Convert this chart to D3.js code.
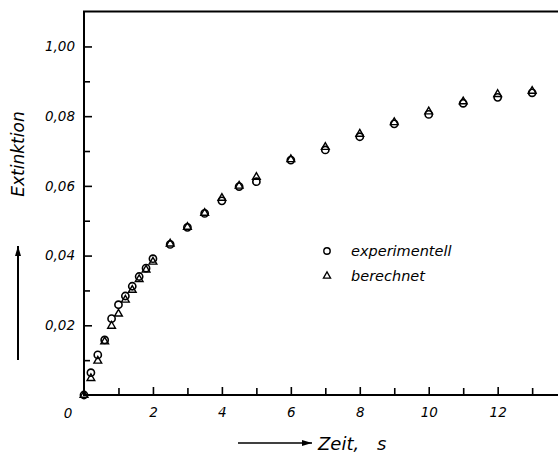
<!DOCTYPE html>
<html>
<head>
<meta charset="utf-8">
<script src="https://cdn.jsdelivr.net/npm/d3@7"></script>
<style>
  body { margin: 0; background: #fff; }
  svg text { font-family: "DejaVu Sans", sans-serif; font-style: italic; fill: #000; }
  .axis text { font-size: 13.5px; }
  .axis line { stroke: #000; stroke-width: 1.6; }
</style>
</head>
<body>
<div id="vis-container"></div>
<script>
// Zeit in s
var zeit = [0, 0.2, 0.4, 0.6, 0.8, 1.0, 1.2, 1.4, 1.6, 1.8, 2.0, 2.5, 3, 3.5, 4, 4.5, 5, 6, 7, 8, 9, 10, 11, 12, 13];
// Extinktion, experimentell (Kreise)
var experimentell = [0, 0.0064, 0.0115, 0.0158, 0.0219, 0.0259, 0.0284, 0.0312, 0.0340, 0.0364, 0.0391,
    0.0432, 0.0481, 0.0521, 0.0557, 0.0598, 0.0612, 0.0674, 0.0703, 0.0741, 0.0778, 0.0805, 0.0837, 0.0854, 0.0867];
// Extinktion, berechnet (Dreiecke)
var berechnet = [0, 0.0048, 0.0098, 0.0153, 0.0198, 0.0233, 0.0273, 0.0301, 0.0332, 0.0359, 0.0382,
    0.0434, 0.0482, 0.0522, 0.0565, 0.0600, 0.0625, 0.0676, 0.0711, 0.0749, 0.0782, 0.0813, 0.0842, 0.0863, 0.0872];

var yTicks = [0.02, 0.04, 0.06, 0.08, 0.10];
var yTickLabels = ["0,02", "0,04", "0,06", "0,08", "1,00"];
var yMinor = [0.01, 0.03, 0.05, 0.07, 0.09];
var xTicks = [2, 4, 6, 8, 10, 12];
var xMinor = [1, 3, 5, 7, 9, 11, 13];

var width = 558, height = 455;
var svg = d3.select("#vis-container").append("svg")
    .attr("width", width).attr("height", height);

var xScale = d3.scaleLinear().domain([0, 13.75]).range([84, 558]);
var yScale = d3.scaleLinear().domain([0, 0.11]).range([395, 11.6]);

// frame: left axis, top line, bottom axis (no right border)
svg.append("path")
    .attr("d", "M" + width + "," + yScale(0.11) + "H" + xScale(0) + "V" + yScale(0) + "H" + width)
    .attr("fill", "none").attr("stroke", "#000").attr("stroke-width", 2);

// y axis with ticks pointing inward
var yAxisG = svg.append("g").attr("class", "axis")
    .attr("transform", "translate(" + xScale(0) + ",0)")
    .call(d3.axisLeft(yScale).tickValues(yTicks).tickSize(-8).tickPadding(9)
        .tickFormat((d, i) => yTickLabels[i]));
yAxisG.select(".domain").remove();

svg.append("g").attr("class", "axis")
    .attr("transform", "translate(" + xScale(0) + ",0)")
    .call(d3.axisLeft(yScale).tickValues(yMinor).tickSize(-6).tickFormat(""))
    .select(".domain").remove();

// x axis
var xAxisG = svg.append("g").attr("class", "axis")
    .attr("transform", "translate(0," + yScale(0) + ")")
    .call(d3.axisBottom(xScale).tickValues(xTicks).tickSize(-8).tickPadding(12).tickFormat(d3.format("d")));
xAxisG.select(".domain").remove();

svg.append("g").attr("class", "axis")
    .attr("transform", "translate(0," + yScale(0) + ")")
    .call(d3.axisBottom(xScale).tickValues(xMinor).tickSize(-7).tickFormat(""))
    .select(".domain").remove();

// origin label
svg.append("text").attr("x", xScale(0) - 16).attr("y", yScale(0) + 23)
    .attr("text-anchor", "middle").style("font-size", "13.5px").text("0");

// markers
var pts = zeit.map((t, i) => ({ t: t, e: experimentell[i], b: berechnet[i] }));
var tri = d3.symbol().type(d3.symbolTriangle).size(26);

svg.append("g").selectAll("circle").data(pts).enter().append("circle")
    .attr("cx", d => xScale(d.t)).attr("cy", d => yScale(d.e)).attr("r", 3.6)
    .attr("fill", "none").attr("stroke", "#000").attr("stroke-width", 1.6);

svg.append("g").selectAll("path").data(pts).enter().append("path")
    .attr("d", tri)
    .attr("transform", d => "translate(" + xScale(d.t) + "," + yScale(d.b) + ")")
    .attr("fill", "none").attr("stroke", "#000").attr("stroke-width", 1.4);

// legend
svg.append("circle").attr("cx", 327).attr("cy", 251).attr("r", 3.2)
    .attr("fill", "none").attr("stroke", "#000").attr("stroke-width", 1.4);
svg.append("path").attr("d", d3.symbol().type(d3.symbolTriangle).size(22))
    .attr("transform", "translate(327,276)")
    .attr("fill", "none").attr("stroke", "#000").attr("stroke-width", 1.3);
svg.append("text").attr("x", 351).attr("y", 256).style("font-size", "14.5px").text("experimentell");
svg.append("text").attr("x", 351).attr("y", 281).style("font-size", "14.5px").text("berechnet");

// arrow marker
svg.append("defs").append("marker")
    .attr("id", "arr").attr("viewBox", "0 0 10 6").attr("refX", 10).attr("refY", 3)
    .attr("markerWidth", 10).attr("markerHeight", 6).attr("markerUnits", "userSpaceOnUse")
    .attr("orient", "auto")
    .append("path").attr("d", "M0,0L10,3L0,6Z").attr("fill", "#000");

// y label with arrow
svg.append("line").attr("x1", 18).attr("y1", 360).attr("x2", 18).attr("y2", 246)
    .attr("stroke", "#000").attr("stroke-width", 2).attr("marker-end", "url(#arr)");
svg.append("text").attr("transform", "translate(24,154) rotate(-90)")
    .attr("text-anchor", "middle").style("font-size", "17px").text("Extinktion");

// x label with arrow
svg.append("line").attr("x1", 238).attr("y1", 443).attr("x2", 312).attr("y2", 443)
    .attr("stroke", "#000").attr("stroke-width", 1.6).attr("marker-end", "url(#arr)");
svg.append("text").attr("x", 318).attr("y", 450).style("font-size", "18px").text("Zeit,");
svg.append("text").attr("x", 377).attr("y", 450).style("font-size", "18px").text("s");
</script>
</body>
</html>
